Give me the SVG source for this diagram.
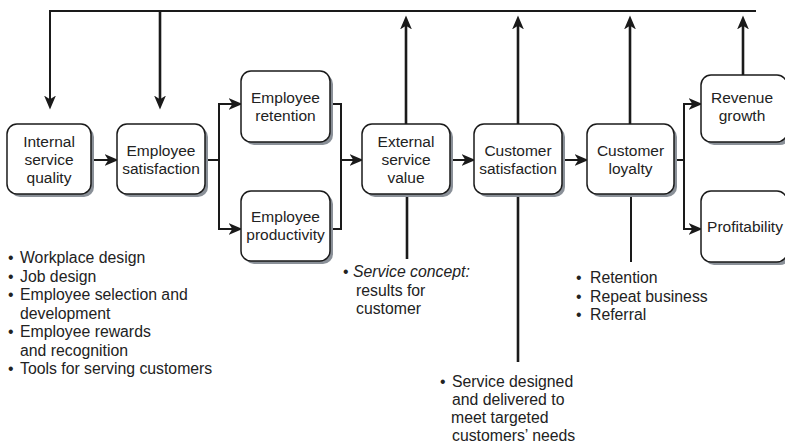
<svg xmlns="http://www.w3.org/2000/svg" width="785" height="445" viewBox="0 0 785 445">
<defs>
<marker id="ah" markerUnits="userSpaceOnUse" markerWidth="14" markerHeight="12" viewBox="0 0 13 11" refX="6" refY="5.5" orient="auto">
<path d="M0,0 L13,5.5 L0,11 L3.5,5.5 z" fill="#1a1a1a"/>
</marker>
</defs>
<style>
.box{fill:#fff;stroke:#1a1a1a;stroke-width:1.5}
.sh{fill:#8a9098}
.t{font-family:"Liberation Sans",Arial,sans-serif;font-size:15.5px;fill:#222}
.n{font-size:15.8px}
.c{text-anchor:middle}
.ln{fill:none;stroke:#1a1a1a;stroke-width:2}
.th{fill:none;stroke:#1a1a1a;stroke-width:2.6}
.ar{marker-end:url(#ah)}
</style>
<rect width="785" height="445" fill="#fff"/>
<g id="connectors">
<polyline class="ln" points="50,102 50,11 756,11"/>
<line class="ln ar" x1="50" y1="11" x2="50" y2="102"/>
<line class="th ar" x1="160" y1="11" x2="160" y2="102"/>
<line class="th ar" x1="406" y1="124" x2="406" y2="23"/>
<line class="th ar" x1="518" y1="124" x2="518" y2="23"/>
<line class="th ar" x1="630" y1="124" x2="630" y2="23"/>
<line class="th ar" x1="743" y1="75" x2="743" y2="23"/>
<line class="ln ar" x1="91" y1="160" x2="111" y2="160"/>
<polyline class="ln" points="205,160 219,160"/>
<polyline class="ln" points="235,104 219,104 219,229 235,229"/>
<line class="ln ar" x1="219" y1="104" x2="235" y2="104"/>
<line class="ln ar" x1="219" y1="229" x2="235" y2="229"/>
<polyline class="ln" points="330,104 341,104 341,229 330,229"/>
<line class="ln ar" x1="341" y1="160" x2="356" y2="160"/>
<line class="ln ar" x1="450" y1="160" x2="468" y2="160"/>
<line class="ln ar" x1="562" y1="160" x2="581" y2="160"/>
<polyline class="ln" points="674,160 684,160"/>
<polyline class="ln" points="695,104 684,104 684,229 695,229"/>
<line class="ln ar" x1="684" y1="104" x2="695" y2="104"/>
<line class="ln ar" x1="684" y1="229" x2="695" y2="229"/>
<line class="th" x1="407" y1="194" x2="407" y2="259"/>
<line class="th" x1="518" y1="194" x2="518" y2="362"/>
<line class="ln" x1="631" y1="194" x2="631" y2="262"/>
</g>
<g id="isq">
<rect class="sh" x="10" y="127" width="84" height="70" rx="10"/>
<rect class="box" x="7" y="124" width="84" height="70" rx="10"/>
<text class="t c" x="49" y="147">Internal<tspan x="49" y="165">service</tspan><tspan x="49" y="183">quality</tspan></text>
</g>
<g id="es">
<rect class="sh" x="120" y="127" width="88" height="70" rx="10"/>
<rect class="box" x="117" y="124" width="88" height="70" rx="10"/>
<text class="t c" x="161" y="156">Employee<tspan x="161" y="174">satisfaction</tspan></text>
</g>
<g id="er">
<rect class="sh" x="244" y="74" width="89" height="71" rx="10"/>
<rect class="box" x="241" y="71" width="89" height="71" rx="10"/>
<text class="t c" x="285.5" y="103">Employee<tspan x="285.5" y="121">retention</tspan></text>
</g>
<g id="ep">
<rect class="sh" x="244" y="194" width="89" height="70" rx="10"/>
<rect class="box" x="241" y="191" width="89" height="70" rx="10"/>
<text class="t c" x="285.5" y="222">Employee<tspan x="285.5" y="240">productivity</tspan></text>
</g>
<g id="esv">
<rect class="sh" x="365" y="127" width="88" height="70" rx="10"/>
<rect class="box" x="362" y="124" width="88" height="70" rx="10"/>
<text class="t c" x="406" y="147">External<tspan x="406" y="165">service</tspan><tspan x="406" y="183">value</tspan></text>
</g>
<g id="cs">
<rect class="sh" x="477" y="127" width="88" height="70" rx="10"/>
<rect class="box" x="474" y="124" width="88" height="70" rx="10"/>
<text class="t c" x="518" y="156">Customer<tspan x="518" y="174">satisfaction</tspan></text>
</g>
<g id="cl">
<rect class="sh" x="590" y="127" width="87" height="70" rx="10"/>
<rect class="box" x="587" y="124" width="87" height="70" rx="10"/>
<text class="t c" x="630.5" y="156">Customer<tspan x="630.5" y="174">loyalty</tspan></text>
</g>
<g id="rg">
<rect class="sh" x="704" y="78" width="86" height="67" rx="10"/>
<rect class="box" x="701" y="75" width="86" height="67" rx="10"/>
<text class="t c" x="742" y="103">Revenue<tspan x="742" y="121">growth</tspan></text>
</g>
<g id="pr">
<rect class="sh" x="704" y="194" width="86" height="71" rx="10"/>
<rect class="box" x="701" y="191" width="86" height="71" rx="10"/>
<text class="t c" x="745" y="232">Profitability</text>
</g>
<g id="notes-left">
<text class="t n" x="8" y="263">•<tspan x="20">Workplace design</tspan></text>
<text class="t n" x="8" y="281.5">•<tspan x="20">Job design</tspan></text>
<text class="t n" x="8" y="300">•<tspan x="20">Employee selection and</tspan></text>
<text class="t n" x="20" y="318.5">development</text>
<text class="t n" x="8" y="337">•<tspan x="20">Employee rewards</tspan></text>
<text class="t n" x="20" y="355.5">and recognition</text>
<text class="t n" x="8" y="374">•<tspan x="20">Tools for serving customers</tspan></text>
</g>
<g id="notes-esv">
<text class="t n" x="343" y="277">•<tspan x="353" font-style="italic">Service concept:</tspan></text>
<text class="t n" x="356" y="295.5">results for</text>
<text class="t n" x="356" y="314">customer</text>
</g>
<g id="notes-cl">
<text class="t n" x="576" y="283">•<tspan x="590">Retention</tspan></text>
<text class="t n" x="576" y="301.5">•<tspan x="590">Repeat business</tspan></text>
<text class="t n" x="576" y="320">•<tspan x="590">Referral</tspan></text>
</g>
<g id="notes-cs">
<text class="t n" x="440" y="387">•<tspan x="452">Service designed</tspan></text>
<text class="t n" x="452" y="405">and delivered to</text>
<text class="t n" x="451" y="423">meet targeted</text>
<text class="t n" x="452" y="441">customers’ needs</text>
</g>
</svg>
